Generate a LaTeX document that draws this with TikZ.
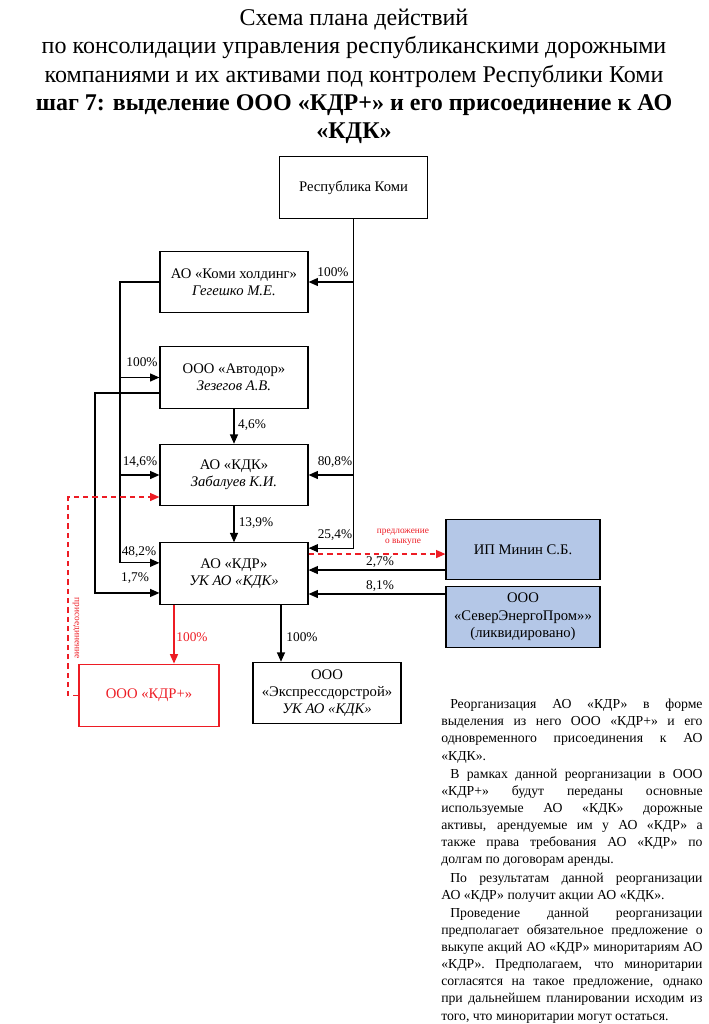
\documentclass[tikz,border=0pt]{standalone}
\usepackage{fontspec}
\setmainfont{Liberation Serif}
\usetikzlibrary{positioning}
\usetikzlibrary{calc}
\usetikzlibrary{arrows.meta}

\definecolor{redline}{RGB}{237,28,36}
\definecolor{bluebox}{RGB}{180,199,231}

\begin{document}
\begin{tikzpicture}[
        x=0.75pt, y=-0.75pt,
        firm/.style={draw, line width=0.9pt, minimum width=111pt, minimum height=46pt,
            align=center, inner sep=2pt, font=\fontsize{11}{13}\selectfont},
        minbox/.style={fill=bluebox, minimum width=115.5pt, minimum height=45.5pt},
        newbox/.style={draw=redline, text=redline, minimum width=105pt, minimum height=47pt},
        arr/.style={line width=0.9pt, -{Triangle[length=7pt,width=6pt]}},
        redarr/.style={arr, color=redline, dash pattern=on 4pt off 3pt},
        pct/.style={inner sep=0pt, font=\fontsize{10}{12}\selectfont},
        tinyred/.style={inner sep=0pt, align=center, text=redline, font=\fontsize{7}{7.5}\selectfont},
    ]
        \useasboundingbox (0,0) rectangle (708,1024);

        % Title
        \node[anchor=north, align=center, inner sep=0pt, font=\fontsize{18}{21.2}\selectfont] (title) at (354,9)
            {Схема плана действий\\
             по консолидации управления республиканскими дорожными\\
             компаниями и их активами под контролем Республики Коми\\
             \textbf{шаг 7: выделение ООО «КДР+» и его присоединение к АО}\\
             \textbf{«КДК»}};

        % Companies
        \node[firm] (rk) at (353.5,187.5) {Республика Коми};
        \node[firm] (komi) at (234,282) {АО «Коми холдинг»\\\textit{Гегешко М.Е.}};
        \node[firm] (avtodor) at (234,377.5) {ООО «Автодор»\\\textit{Зезегов А.В.}};
        \node[firm] (kdk) at (234,475) {АО «КДК»\\\textit{Забалуев К.И.}};
        \node[firm] (kdr) at (234,573.5) {АО «КДР»\\\textit{УК АО «КДК»}};
        \node[firm, minbox] (minin) at (523,549.5) {ИП Минин С.Б.};
        \node[firm, minbox] (sever) at (523,617) {ООО\\«СеверЭнергоПром»»\\(ликвидировано)};
        \node[firm, newbox] (kdrplus) at (149,695.5) {ООО «КДР+»};
        \node[firm] (express) at (327,693) {ООО\\«Экспрессдорстрой»\\\textit{УК АО «КДК»}};

        % Helper coordinates
        \coordinate (busA) at (120,0);
        \coordinate (busB) at (95,0);
        \coordinate (joinL) at (68,0);
        \coordinate (xPlus) at (174,0);
        \coordinate (xExp) at (281,0);
        \coordinate (kdrR) at ([yshift=19pt]kdr.east);
        \coordinate (kdrA) at ([yshift=8pt]kdr.west);
        \coordinate (kdrB) at ([yshift=-14.6pt]kdr.west);
        \coordinate (avtB) at ([yshift=-11.6pt]avtodor.west);
        \coordinate (kdkJ) at ([yshift=-16.5pt]kdk.west);
        \coordinate (offer) at ([yshift=14.6pt]kdr.east);
        \coordinate (mininA) at ([yshift=-15.4pt]minin.west);
        \coordinate (severA) at ([yshift=17.25pt]sever.west);

        % Edges
        \draw[arr] (rk.south) |- (komi.east);
        \draw[arr] (rk.south) |- (kdk.east);
        \draw[arr] (rk.south) |- (kdrR);
        \draw[arr] (komi.west) -| (busA |- kdrA) -- (kdrA);
        \draw[arr] (busA |- avtodor.west) -- (avtodor.west);
        \draw[arr] (busA |- kdk.west) -- (kdk.west);
        \draw[arr] (avtB) -| (busB |- kdrB) -- (kdrB);
        \draw[arr] (avtodor.south) -- (kdk.north);
        \draw[arr] (kdk.south) -- (kdr.north);
        \draw[arr] (mininA) -- (mininA -| kdr.east);
        \draw[arr] (severA) -- (severA -| kdr.east);
        \draw[redarr] (offer) -- (offer -| minin.west);
        \draw[arr, color=redline] (kdr.south -| xPlus) -- (kdrplus.north -| xPlus);
        \draw[arr] (kdr.south -| xExp) -- (express.north -| xExp);
        \draw[redarr] (kdrplus.west) -| (joinL |- kdkJ) -- (kdkJ);

        % Shares
        \node[pct] (p1) at (333,272) {100\%};
        \node[pct] (p2) at (142,362) {100\%};
        \node[pct] (p3) at (252,425) {4,6\%};
        \node[pct] (p4) at (140,462) {14,6\%};
        \node[pct] (p5) at (335,462) {80,8\%};
        \node[pct] (p6) at (256,523) {13,9\%};
        \node[pct] (p7) at (335,535) {25,4\%};
        \node[pct] (p8) at (139,552) {48,2\%};
        \node[pct] (p9) at (135,578) {1,7\%};
        \node[pct] (p10) at (380,562) {2,7\%};
        \node[pct] (p11) at (380,586) {8,1\%};
        \node[pct, text=redline] (p12) at (192,637) {100\%};
        \node[pct] (p13) at (302,637) {100\%};
        \node[tinyred] (offerlbl) at (403,537) {предложение\\о выкупе};
        \node[tinyred, rotate=-90] (joinlbl) at (76,628) {присоединение};

        % Memo
        \node[anchor=north west, inner sep=0pt, text width=196pt, align=justify,
            font=\fontsize{10.3}{12.8}\selectfont] (memo) at (441,699)
            {\tolerance=10000 \hyphenpenalty=10000 \parskip=1pt
             \hspace*{6.75pt}Реорганизация АО «КДР» в форме\linebreak
             выделения из него ООО «КДР+» и его\linebreak
             одновременного присоединения к АО\linebreak
             «КДК».\par
             \hspace*{6.75pt}В рамках данной реорганизации в ООО\linebreak
             «КДР+» будут переданы основные\linebreak
             используемые АО «КДК» дорожные\linebreak
             активы, арендуемые им у АО «КДР» а\linebreak
             также права требования АО «КДР» по\linebreak
             долгам по договорам аренды.\par
             \hspace*{6.75pt}По результатам данной реорганизации\linebreak
             АО «КДР» получит акции АО «КДК».\par
             \hspace*{6.75pt}Проведение данной реорганизации\linebreak
             предполагает обязательное предложение о\linebreak
             выкупе акций АО «КДР» миноритариям АО\linebreak
             «КДР». Предполагаем, что миноритарии\linebreak
             согласятся на такое предложение, однако\linebreak
             при дальнейшем планировании исходим из\linebreak
             того, что миноритарии могут остаться.\par};

    \end{tikzpicture}
\end{document}
